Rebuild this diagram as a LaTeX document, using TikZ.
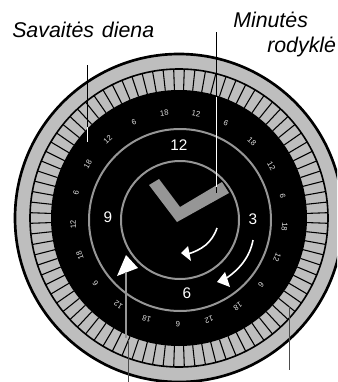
\documentclass[tikz,border=0pt]{standalone}
\usepackage{fontspec}
\setmainfont{Liberation Sans}
\usetikzlibrary{arrows.meta, positioning, calc}
\definecolor{ringgray}{RGB}{190, 190, 190}
\definecolor{dialgray}{RGB}{150, 150, 150}

\begin{document}
\begin{tikzpicture}[
  x=0.75pt, y=-0.75pt,
  caption/.style={font=\itshape\fontsize{16}{16}\selectfont, inner sep=0pt, anchor=base west},
  hour/.style={font=\fontsize{11.5}{11.5}\selectfont, text=white, inner sep=0pt},
  shift24/.style={font=\fontsize{5.8}{5.8}\selectfont, text=white!90!black, inner sep=0pt},
  tick/.style={line width=0.8pt, color=black},
  dial/.style={line width=1.5pt, draw=dialgray},
  leader/.style={line width=0.6pt},
  turn/.style={line width=1.2pt, white},
  tipwhite/.style={fill=white, draw=none}
]
  \clip (0,0) rectangle (337,382);

  % Labels
  \node[caption] (day) at (12,37) {Savaitės\hspace{1.5pt} diena};
  \node[caption] (minute) at (233,27) {Minutės};
  \node[caption] (hand) at (267,52) {rodyklė};

  % Clock face
  \begin{scope}[shift={(179,218)}, y=0.75pt]
    \fill[ringgray] (0,0) circle (164);
    \draw[line width=2pt] (0,0) circle (164);
    \draw[line width=1.2pt] (0,0) circle (149);
    \foreach \a in {0,...,87}
      \draw[tick] ({\a*4.0909+2.05}:128) -- ({\a*4.0909+2.05}:149);
    \fill[black] (0,0) circle (128);

    % Hours of the week, three to a day
    \foreach \lbl [count=\i from 0] in {12,6,18,12,6,18,12,6,18,12,6,18,12,6,18,12,6,18,12,6,18}
      \node[shift24, rotate={80.8-\i*17.143-90}] (mark\i) at ({80.8-\i*17.143}:106) {\lbl};
  \end{scope}

  % Inner circles and hand
  \draw[dial] (180,220) circle (91);
  \draw[dial] (180,220) circle (59);
  \fill[dialgray] (149,185) -- (159,179) -- (180,207) -- (222,182) -- (229,193) -- (177,222) -- cycle;

  \node[hour] (h12) at (179,145) {12};
  \node[hour] (h3) at (253,219) {3};
  \node[hour] (h6) at (187,293) {6};
  \node[hour] (h9) at (108,217) {9};

  % Direction arrows
  \draw[turn] (217,228) .. controls (212,243) and (201,250) .. (188,254);
  \fill[tipwhite] (181,253) -- (188,246) -- (191,261) -- cycle;
  \draw[turn] (253,240) .. controls (250,257) and (239,270) .. (225,279);
  \fill[tipwhite] (217,282) -- (225,272) -- (230,287) -- cycle;
  \fill[tipwhite] (117,276) -- (126,255) -- (138,268) -- cycle;

  % Leader lines
  \draw[leader, black] (87.5,65) -- (87.5,127);
  \draw[leader, white] (87.5,127) -- (87.5,142);
  \draw[leader, black] (216,32) -- (216,97);
  \draw[leader, white] (216,97) -- (216,187);
  \draw[leader, black] (216,187) -- (216,193);
  \draw[leader, dialgray, line width=0.8pt] (126,272) -- (126,338);
  \draw[leader, black!70] (128.7,340) -- (128.7,382);
  \draw[leader, black!70] (289,306) -- (289,370);
\end{tikzpicture}
\end{document}
